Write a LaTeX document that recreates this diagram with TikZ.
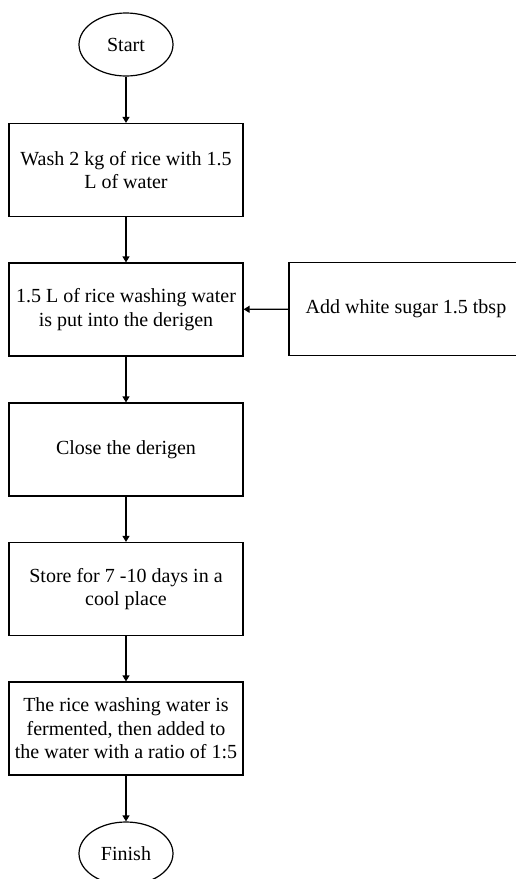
\documentclass[tikz,border=0pt]{standalone}
\usepackage{fontspec}
\setmainfont{Liberation Serif}
\usetikzlibrary{shapes.geometric,arrows.meta}
\begin{document}
\begin{tikzpicture}[x=1pt,y=-1pt,
  box/.style={draw,line width=1.2pt,minimum width=234pt,minimum height=93pt,align=center,inner sep=0pt,font=\fontsize{20}{23.5}\selectfont},
  term/.style={draw,ellipse,line width=1.2pt,minimum width=94pt,minimum height=63pt,inner sep=0pt,font=\fontsize{20}{23.5}\selectfont},
  arr/.style={line width=1.2pt,-{Triangle[length=6pt,width=7pt]}}]
\useasboundingbox (0,0) rectangle (516,879);
\clip (0,0) rectangle (516,879);
\node[term] (start) at (126,44.5) {Start};
\node[box] (b1) at (126,170) {Wash 2 kg of rice with 1.5\\L of water};
\node[box] (b2) at (126,309.5) {1.5 L of rice washing water\\is put into the derigen};
\node[box] (side) at (406,309) {Add white sugar 1.5 tbsp};
\node[box] (b3) at (126,449.5) {Close the derigen};
\node[box] (b4) at (126,589) {Store for 7 -10 days in a\\cool place};
\node[box] (b5) at (126,728.5) {The rice washing water is\\fermented, then added to\\the water with a ratio of 1:5};
\node[term] (finish) at (126,853.5) {Finish};
\draw[arr] (start) -- (b1);
\draw[arr] (b1) -- (b2);
\draw[arr] (side) -- (b2);
\draw[arr] (b2) -- (b3);
\draw[arr] (b3) -- (b4);
\draw[arr] (b4) -- (b5);
\draw[arr] (b5) -- (finish);
\end{tikzpicture}
\end{document}
